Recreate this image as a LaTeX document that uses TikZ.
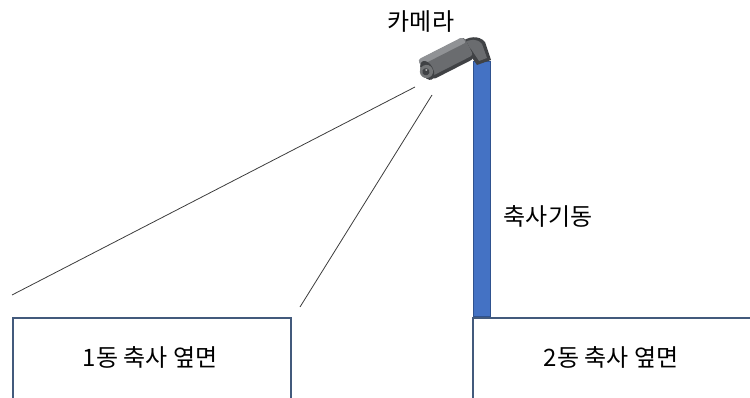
\documentclass[tikz,border=0pt]{standalone}
\usepackage{fontspec}
\setmainfont{Noto Sans CJK KR}
\definecolor{barnedge}{HTML}{435A7C}
\definecolor{polefill}{HTML}{4472C4}
\definecolor{poleedge}{HTML}{2F528F}
\definecolor{camgray}{HTML}{6A6C6F}
\definecolor{camdark}{HTML}{404245}
\definecolor{camlight}{HTML}{909295}
\definecolor{sightline}{HTML}{3C3C3C}
\tikzset{
  barnbox/.style={draw=barnedge, line width=1.8pt, anchor=north west, inner sep=0pt},
  polebar/.style={draw=poleedge, fill=polefill, line width=1pt, anchor=south west, inner sep=0pt},
  label/.style={font=\fontsize{24}{28}\selectfont, text=black, inner sep=0pt},
  sight/.style={draw=sightline, line width=0.8pt}
}
\begin{document}
\begin{tikzpicture}[x=1pt, y=-1pt]
\useasboundingbox (0,0) rectangle (750,398);

% barn walls (open at the bottom, running past the page edge)
\node[barnbox, minimum width=278pt, minimum height=120pt] (barnA) at (12,317) {};
\node[barnbox, minimum width=300pt, minimum height=120pt] (barnB) at (472,317) {};
\node[label] (barnAtext) at (150,357) {1동 축사 옆면};
\node[label] (barnBtext) at (611,357) {2동 축사 옆면};

% pole
\node[polebar, minimum width=17pt, minimum height=255pt] (pole) at (473,317) {};
\node[label] (poletext) at (548,216) {축사기동};

% camera mount arm
\fill[camdark] (460,43) .. controls (468,36) and (479,35) .. (485,42)
  -- (491,60) -- (477,65) -- (468,52) -- cycle;
\fill[camgray] (463,43) .. controls (470,39) and (477,38) .. (482,44)
  -- (487,58) -- (479,61) -- (471,49) -- cycle;

% camera body
\begin{scope}[shift={(447,59)}, x=1pt, y=1pt, rotate=27, scale=1.2]
  \fill[camdark, rounded corners=4pt] (-19,-10) rectangle (21,10);
  \fill[camgray, rounded corners=3pt] (-19,-7) rectangle (21,10);
  \fill[camlight, rounded corners=3pt] (-22,4) rectangle (20,10.5);
  \fill[camgray] (-18,3) rectangle (20,5);
  \fill[camdark] (-19,-1) ellipse (5 and 8.5);
  \fill[camlight!80!black] (-20,-1.5) circle (5.5);
  \fill[camdark] (-20.5,-1.5) circle (3);
  \fill[white, opacity=0.6] (-19.5,-0.3) circle (0.9);
\end{scope}
\node[label] (camtext) at (421,22) {카메라};

% field of view
\coordinate (viewA) at (415,87);
\coordinate (viewB) at (432,95);
\coordinate (farA) at (12,295);
\coordinate (farB) at (300,307);
\draw[sight] (viewA) -- (farA);
\draw[sight] (viewB) -- (farB);
\end{tikzpicture}
\end{document}
